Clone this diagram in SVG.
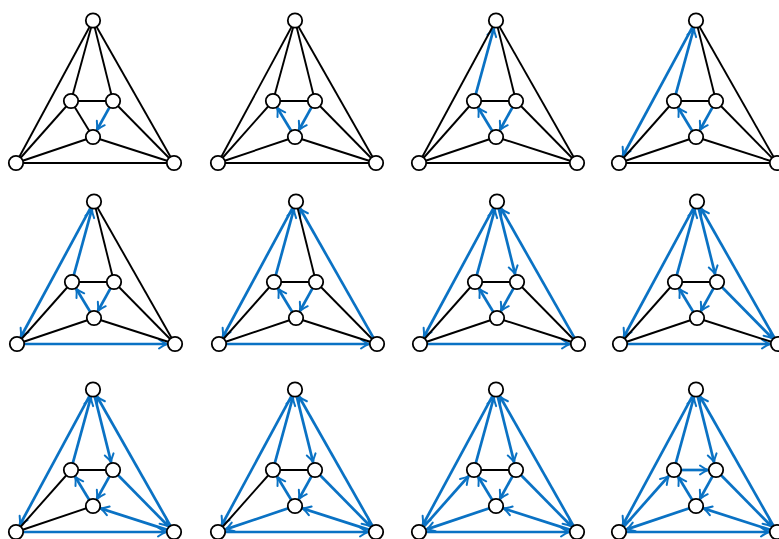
<svg xmlns="http://www.w3.org/2000/svg" width="779" height="539" viewBox="0 0 779 539">
<style>
.e{stroke:#000;stroke-width:1.9;fill:none}
.a{stroke:#0a72c4;stroke-width:2.7;fill:none;marker-end:url(#ah)}
.n circle{fill:#fff;stroke:#000;stroke-width:1.8}
</style>
<defs>
<marker id="ah" markerUnits="userSpaceOnUse" viewBox="-10 -6 12 12" markerWidth="12" markerHeight="12" refX="0" refY="0" orient="auto" overflow="visible">
<path d="M-8,-4.5 Q-3,-1 0,0 Q-3,1 -8,4.5" fill="none" stroke="#0a72c4" stroke-width="2" stroke-linecap="round" stroke-linejoin="round"/>
</marker>
</defs>
<rect width="779" height="539" fill="#fff"/>

<!-- Panel 1 -->
<g id="panel1" transform="translate(0,0)">
<g id="p1-edges">
<line class="a" x1="109.6" y1="107.1" x2="96.9" y2="130"/>
<line class="e" x1="93" y1="137" x2="71" y2="101"/>
<line class="e" x1="71" y1="101" x2="93" y2="20.5"/>
<line class="e" x1="93" y1="20.5" x2="16" y2="163"/>
<line class="e" x1="16" y1="163" x2="174" y2="163"/>
<line class="e" x1="174" y1="163" x2="93" y2="20.5"/>
<line class="e" x1="93" y1="20.5" x2="113" y2="101"/>
<line class="e" x1="113" y1="101" x2="174" y2="163"/>
<line class="e" x1="174" y1="163" x2="93" y2="137"/>
<line class="e" x1="93" y1="137" x2="16" y2="163"/>
<line class="e" x1="16" y1="163" x2="71" y2="101"/>
<line class="e" x1="71" y1="101" x2="113" y2="101"/>
</g>
<g id="p1-T" class="n"><circle cx="93" cy="20.5" r="7.2"/></g>
<g id="p1-L" class="n"><circle cx="71" cy="101" r="7.2"/></g>
<g id="p1-R" class="n"><circle cx="113" cy="101" r="7.2"/></g>
<g id="p1-B" class="n"><circle cx="93" cy="137" r="7.2"/></g>
<g id="p1-BL" class="n"><circle cx="16" cy="163" r="7.2"/></g>
<g id="p1-BR" class="n"><circle cx="174" cy="163" r="7.2"/></g>
</g>

<!-- Panel 2 -->
<g id="panel2" transform="translate(202,0)">
<g id="p2-edges">
<line class="a" x1="109.6" y1="107.1" x2="96.9" y2="130"/>
<line class="a" x1="89.3" y1="131" x2="75.2" y2="107.8"/>
<line class="e" x1="71" y1="101" x2="93" y2="20.5"/>
<line class="e" x1="93" y1="20.5" x2="16" y2="163"/>
<line class="e" x1="16" y1="163" x2="174" y2="163"/>
<line class="e" x1="174" y1="163" x2="93" y2="20.5"/>
<line class="e" x1="93" y1="20.5" x2="113" y2="101"/>
<line class="e" x1="113" y1="101" x2="174" y2="163"/>
<line class="e" x1="174" y1="163" x2="93" y2="137"/>
<line class="e" x1="93" y1="137" x2="16" y2="163"/>
<line class="e" x1="16" y1="163" x2="71" y2="101"/>
<line class="e" x1="71" y1="101" x2="113" y2="101"/>
</g>
<g id="p2-T" class="n"><circle cx="93" cy="20.5" r="7.2"/></g>
<g id="p2-L" class="n"><circle cx="71" cy="101" r="7.2"/></g>
<g id="p2-R" class="n"><circle cx="113" cy="101" r="7.2"/></g>
<g id="p2-B" class="n"><circle cx="93" cy="137" r="7.2"/></g>
<g id="p2-BL" class="n"><circle cx="16" cy="163" r="7.2"/></g>
<g id="p2-BR" class="n"><circle cx="174" cy="163" r="7.2"/></g>
</g>

<!-- Panel 3 -->
<g id="panel3" transform="translate(403,0)">
<g id="p3-edges">
<line class="a" x1="109.6" y1="107.1" x2="96.9" y2="130"/>
<line class="a" x1="89.3" y1="131" x2="75.2" y2="107.8"/>
<line class="a" x1="72.8" y1="94.2" x2="90.9" y2="28.2"/>
<line class="e" x1="93" y1="20.5" x2="16" y2="163"/>
<line class="e" x1="16" y1="163" x2="174" y2="163"/>
<line class="e" x1="174" y1="163" x2="93" y2="20.5"/>
<line class="e" x1="93" y1="20.5" x2="113" y2="101"/>
<line class="e" x1="113" y1="101" x2="174" y2="163"/>
<line class="e" x1="174" y1="163" x2="93" y2="137"/>
<line class="e" x1="93" y1="137" x2="16" y2="163"/>
<line class="e" x1="16" y1="163" x2="71" y2="101"/>
<line class="e" x1="71" y1="101" x2="113" y2="101"/>
</g>
<g id="p3-T" class="n"><circle cx="93" cy="20.5" r="7.2"/></g>
<g id="p3-L" class="n"><circle cx="71" cy="101" r="7.2"/></g>
<g id="p3-R" class="n"><circle cx="113" cy="101" r="7.2"/></g>
<g id="p3-B" class="n"><circle cx="93" cy="137" r="7.2"/></g>
<g id="p3-BL" class="n"><circle cx="16" cy="163" r="7.2"/></g>
<g id="p3-BR" class="n"><circle cx="174" cy="163" r="7.2"/></g>
</g>

<!-- Panel 4 -->
<g id="panel4" transform="translate(603,0)">
<g id="p4-edges">
<line class="a" x1="109.6" y1="107.1" x2="96.9" y2="130"/>
<line class="a" x1="89.3" y1="131" x2="75.2" y2="107.8"/>
<line class="a" x1="72.8" y1="94.2" x2="90.9" y2="28.2"/>
<line class="a" x1="89.7" y1="26.7" x2="19.8" y2="156"/>
<line class="e" x1="16" y1="163" x2="174" y2="163"/>
<line class="e" x1="174" y1="163" x2="93" y2="20.5"/>
<line class="e" x1="93" y1="20.5" x2="113" y2="101"/>
<line class="e" x1="113" y1="101" x2="174" y2="163"/>
<line class="e" x1="174" y1="163" x2="93" y2="137"/>
<line class="e" x1="93" y1="137" x2="16" y2="163"/>
<line class="e" x1="16" y1="163" x2="71" y2="101"/>
<line class="e" x1="71" y1="101" x2="113" y2="101"/>
</g>
<g id="p4-T" class="n"><circle cx="93" cy="20.5" r="7.2"/></g>
<g id="p4-L" class="n"><circle cx="71" cy="101" r="7.2"/></g>
<g id="p4-R" class="n"><circle cx="113" cy="101" r="7.2"/></g>
<g id="p4-B" class="n"><circle cx="93" cy="137" r="7.2"/></g>
<g id="p4-BL" class="n"><circle cx="16" cy="163" r="7.2"/></g>
<g id="p4-BR" class="n"><circle cx="174" cy="163" r="7.2"/></g>
</g>

<!-- Panel 5 -->
<g id="panel5" transform="translate(1,181)">
<g id="p5-edges">
<line class="a" x1="109.6" y1="107.1" x2="96.9" y2="130"/>
<line class="a" x1="89.3" y1="131" x2="75.2" y2="107.8"/>
<line class="a" x1="72.8" y1="94.2" x2="90.9" y2="28.2"/>
<line class="a" x1="89.7" y1="26.7" x2="19.8" y2="156"/>
<line class="a" x1="23" y1="163" x2="166" y2="163"/>
<line class="e" x1="174" y1="163" x2="93" y2="20.5"/>
<line class="e" x1="93" y1="20.5" x2="113" y2="101"/>
<line class="e" x1="113" y1="101" x2="174" y2="163"/>
<line class="e" x1="174" y1="163" x2="93" y2="137"/>
<line class="e" x1="93" y1="137" x2="16" y2="163"/>
<line class="e" x1="16" y1="163" x2="71" y2="101"/>
<line class="e" x1="71" y1="101" x2="113" y2="101"/>
</g>
<g id="p5-T" class="n"><circle cx="93" cy="20.5" r="7.2"/></g>
<g id="p5-L" class="n"><circle cx="71" cy="101" r="7.2"/></g>
<g id="p5-R" class="n"><circle cx="113" cy="101" r="7.2"/></g>
<g id="p5-B" class="n"><circle cx="93" cy="137" r="7.2"/></g>
<g id="p5-BL" class="n"><circle cx="16" cy="163" r="7.2"/></g>
<g id="p5-BR" class="n"><circle cx="174" cy="163" r="7.2"/></g>
</g>

<!-- Panel 6 -->
<g id="panel6" transform="translate(203,181)">
<g id="p6-edges">
<line class="a" x1="109.6" y1="107.1" x2="96.9" y2="130"/>
<line class="a" x1="89.3" y1="131" x2="75.2" y2="107.8"/>
<line class="a" x1="72.8" y1="94.2" x2="90.9" y2="28.2"/>
<line class="a" x1="89.7" y1="26.7" x2="19.8" y2="156"/>
<line class="a" x1="23" y1="163" x2="166" y2="163"/>
<line class="a" x1="170.5" y1="156.9" x2="97" y2="27.5"/>
<line class="e" x1="93" y1="20.5" x2="113" y2="101"/>
<line class="e" x1="113" y1="101" x2="174" y2="163"/>
<line class="e" x1="174" y1="163" x2="93" y2="137"/>
<line class="e" x1="93" y1="137" x2="16" y2="163"/>
<line class="e" x1="16" y1="163" x2="71" y2="101"/>
<line class="e" x1="71" y1="101" x2="113" y2="101"/>
</g>
<g id="p6-T" class="n"><circle cx="93" cy="20.5" r="7.2"/></g>
<g id="p6-L" class="n"><circle cx="71" cy="101" r="7.2"/></g>
<g id="p6-R" class="n"><circle cx="113" cy="101" r="7.2"/></g>
<g id="p6-B" class="n"><circle cx="93" cy="137" r="7.2"/></g>
<g id="p6-BL" class="n"><circle cx="16" cy="163" r="7.2"/></g>
<g id="p6-BR" class="n"><circle cx="174" cy="163" r="7.2"/></g>
</g>

<!-- Panel 7 -->
<g id="panel7" transform="translate(404,181)">
<g id="p7-edges">
<line class="a" x1="109.6" y1="107.1" x2="96.9" y2="130"/>
<line class="a" x1="89.3" y1="131" x2="75.2" y2="107.8"/>
<line class="a" x1="72.8" y1="94.2" x2="90.9" y2="28.2"/>
<line class="a" x1="89.7" y1="26.7" x2="19.8" y2="156"/>
<line class="a" x1="23" y1="163" x2="166" y2="163"/>
<line class="a" x1="170.5" y1="156.9" x2="97" y2="27.5"/>
<line class="a" x1="94.7" y1="27.3" x2="111.1" y2="93.2"/>
<line class="e" x1="113" y1="101" x2="174" y2="163"/>
<line class="e" x1="174" y1="163" x2="93" y2="137"/>
<line class="e" x1="93" y1="137" x2="16" y2="163"/>
<line class="e" x1="16" y1="163" x2="71" y2="101"/>
<line class="e" x1="71" y1="101" x2="113" y2="101"/>
</g>
<g id="p7-T" class="n"><circle cx="93" cy="20.5" r="7.2"/></g>
<g id="p7-L" class="n"><circle cx="71" cy="101" r="7.2"/></g>
<g id="p7-R" class="n"><circle cx="113" cy="101" r="7.2"/></g>
<g id="p7-B" class="n"><circle cx="93" cy="137" r="7.2"/></g>
<g id="p7-BL" class="n"><circle cx="16" cy="163" r="7.2"/></g>
<g id="p7-BR" class="n"><circle cx="174" cy="163" r="7.2"/></g>
</g>

<!-- Panel 8 -->
<g id="panel8" transform="translate(604,181)">
<g id="p8-edges">
<line class="a" x1="109.6" y1="107.1" x2="96.9" y2="130"/>
<line class="a" x1="89.3" y1="131" x2="75.2" y2="107.8"/>
<line class="a" x1="72.8" y1="94.2" x2="90.9" y2="28.2"/>
<line class="a" x1="89.7" y1="26.7" x2="19.8" y2="156"/>
<line class="a" x1="23" y1="163" x2="166" y2="163"/>
<line class="a" x1="170.5" y1="156.9" x2="97" y2="27.5"/>
<line class="a" x1="94.7" y1="27.3" x2="111.1" y2="93.2"/>
<line class="a" x1="117.9" y1="106" x2="168.4" y2="157.3"/>
<line class="e" x1="174" y1="163" x2="93" y2="137"/>
<line class="e" x1="93" y1="137" x2="16" y2="163"/>
<line class="e" x1="16" y1="163" x2="71" y2="101"/>
<line class="e" x1="71" y1="101" x2="113" y2="101"/>
</g>
<g id="p8-T" class="n"><circle cx="93" cy="20.5" r="7.2"/></g>
<g id="p8-L" class="n"><circle cx="71" cy="101" r="7.2"/></g>
<g id="p8-R" class="n"><circle cx="113" cy="101" r="7.2"/></g>
<g id="p8-B" class="n"><circle cx="93" cy="137" r="7.2"/></g>
<g id="p8-BL" class="n"><circle cx="16" cy="163" r="7.2"/></g>
<g id="p8-BR" class="n"><circle cx="174" cy="163" r="7.2"/></g>
</g>

<!-- Panel 9 -->
<g id="panel9" transform="translate(0,369)">
<g id="p9-edges">
<line class="a" x1="109.6" y1="107.1" x2="96.9" y2="130"/>
<line class="a" x1="89.3" y1="131" x2="75.2" y2="107.8"/>
<line class="a" x1="72.8" y1="94.2" x2="90.9" y2="28.2"/>
<line class="a" x1="89.7" y1="26.7" x2="19.8" y2="156"/>
<line class="a" x1="23" y1="163" x2="166" y2="163"/>
<line class="a" x1="170.5" y1="156.9" x2="97" y2="27.5"/>
<line class="a" x1="94.7" y1="27.3" x2="111.1" y2="93.2"/>
<line class="a" x1="117.9" y1="106" x2="168.4" y2="157.3"/>
<line class="a" x1="167.3" y1="160.9" x2="100.6" y2="139.4"/>
<line class="e" x1="93" y1="137" x2="16" y2="163"/>
<line class="e" x1="16" y1="163" x2="71" y2="101"/>
<line class="e" x1="71" y1="101" x2="113" y2="101"/>
</g>
<g id="p9-T" class="n"><circle cx="93" cy="20.5" r="7.2"/></g>
<g id="p9-L" class="n"><circle cx="71" cy="101" r="7.2"/></g>
<g id="p9-R" class="n"><circle cx="113" cy="101" r="7.2"/></g>
<g id="p9-B" class="n"><circle cx="93" cy="137" r="7.2"/></g>
<g id="p9-BL" class="n"><circle cx="16" cy="163" r="7.2"/></g>
<g id="p9-BR" class="n"><circle cx="174" cy="163" r="7.2"/></g>
</g>

<!-- Panel 10 -->
<g id="panel10" transform="translate(202,369)">
<g id="p10-edges">
<line class="a" x1="109.6" y1="107.1" x2="96.9" y2="130"/>
<line class="a" x1="89.3" y1="131" x2="75.2" y2="107.8"/>
<line class="a" x1="72.8" y1="94.2" x2="90.9" y2="28.2"/>
<line class="a" x1="89.7" y1="26.7" x2="19.8" y2="156"/>
<line class="a" x1="23" y1="163" x2="166" y2="163"/>
<line class="a" x1="170.5" y1="156.9" x2="97" y2="27.5"/>
<line class="a" x1="94.7" y1="27.3" x2="111.1" y2="93.2"/>
<line class="a" x1="117.9" y1="106" x2="168.4" y2="157.3"/>
<line class="a" x1="167.3" y1="160.9" x2="100.6" y2="139.4"/>
<line class="a" x1="86.4" y1="139.2" x2="23.6" y2="160.4"/>
<line class="e" x1="16" y1="163" x2="71" y2="101"/>
<line class="e" x1="71" y1="101" x2="113" y2="101"/>
</g>
<g id="p10-T" class="n"><circle cx="93" cy="20.5" r="7.2"/></g>
<g id="p10-L" class="n"><circle cx="71" cy="101" r="7.2"/></g>
<g id="p10-R" class="n"><circle cx="113" cy="101" r="7.2"/></g>
<g id="p10-B" class="n"><circle cx="93" cy="137" r="7.2"/></g>
<g id="p10-BL" class="n"><circle cx="16" cy="163" r="7.2"/></g>
<g id="p10-BR" class="n"><circle cx="174" cy="163" r="7.2"/></g>
</g>

<!-- Panel 11 -->
<g id="panel11" transform="translate(403,369)">
<g id="p11-edges">
<line class="a" x1="109.6" y1="107.1" x2="96.9" y2="130"/>
<line class="a" x1="89.3" y1="131" x2="75.2" y2="107.8"/>
<line class="a" x1="72.8" y1="94.2" x2="90.9" y2="28.2"/>
<line class="a" x1="89.7" y1="26.7" x2="19.8" y2="156"/>
<line class="a" x1="23" y1="163" x2="166" y2="163"/>
<line class="a" x1="170.5" y1="156.9" x2="97" y2="27.5"/>
<line class="a" x1="94.7" y1="27.3" x2="111.1" y2="93.2"/>
<line class="a" x1="117.9" y1="106" x2="168.4" y2="157.3"/>
<line class="a" x1="167.3" y1="160.9" x2="100.6" y2="139.4"/>
<line class="a" x1="86.4" y1="139.2" x2="23.6" y2="160.4"/>
<line class="a" x1="20.6" y1="157.8" x2="65.7" y2="107"/>
<line class="e" x1="71" y1="101" x2="113" y2="101"/>
</g>
<g id="p11-T" class="n"><circle cx="93" cy="20.5" r="7.2"/></g>
<g id="p11-L" class="n"><circle cx="71" cy="101" r="7.2"/></g>
<g id="p11-R" class="n"><circle cx="113" cy="101" r="7.2"/></g>
<g id="p11-B" class="n"><circle cx="93" cy="137" r="7.2"/></g>
<g id="p11-BL" class="n"><circle cx="16" cy="163" r="7.2"/></g>
<g id="p11-BR" class="n"><circle cx="174" cy="163" r="7.2"/></g>
</g>

<!-- Panel 12 -->
<g id="panel12" transform="translate(603,369)">
<g id="p12-edges">
<line class="a" x1="109.6" y1="107.1" x2="96.9" y2="130"/>
<line class="a" x1="89.3" y1="131" x2="75.2" y2="107.8"/>
<line class="a" x1="72.8" y1="94.2" x2="90.9" y2="28.2"/>
<line class="a" x1="89.7" y1="26.7" x2="19.8" y2="156"/>
<line class="a" x1="23" y1="163" x2="166" y2="163"/>
<line class="a" x1="170.5" y1="156.9" x2="97" y2="27.5"/>
<line class="a" x1="94.7" y1="27.3" x2="111.1" y2="93.2"/>
<line class="a" x1="117.9" y1="106" x2="168.4" y2="157.3"/>
<line class="a" x1="167.3" y1="160.9" x2="100.6" y2="139.4"/>
<line class="a" x1="86.4" y1="139.2" x2="23.6" y2="160.4"/>
<line class="a" x1="20.6" y1="157.8" x2="65.7" y2="107"/>
<line class="a" x1="78" y1="101" x2="105" y2="101"/>
</g>
<g id="p12-T" class="n"><circle cx="93" cy="20.5" r="7.2"/></g>
<g id="p12-L" class="n"><circle cx="71" cy="101" r="7.2"/></g>
<g id="p12-R" class="n"><circle cx="113" cy="101" r="7.2"/></g>
<g id="p12-B" class="n"><circle cx="93" cy="137" r="7.2"/></g>
<g id="p12-BL" class="n"><circle cx="16" cy="163" r="7.2"/></g>
<g id="p12-BR" class="n"><circle cx="174" cy="163" r="7.2"/></g>
</g>
</svg>
